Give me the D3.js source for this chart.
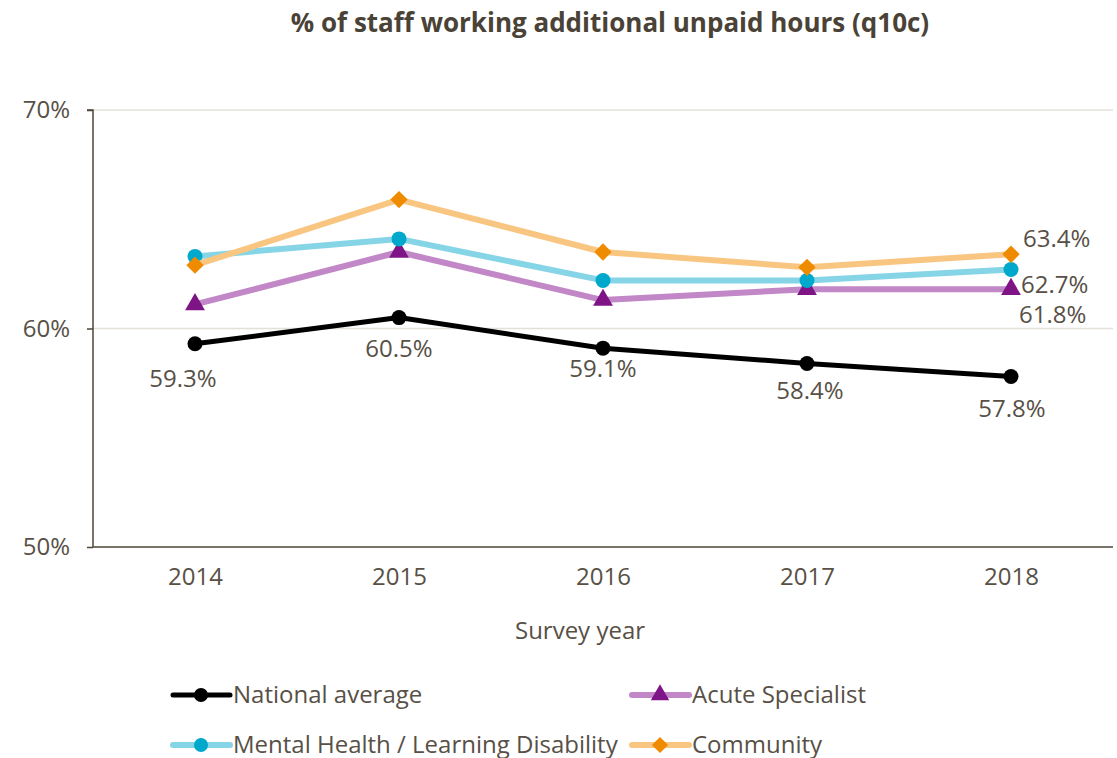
<!DOCTYPE html>
<html>
<head>
  <meta charset="utf-8">
  <script src="https://cdn.jsdelivr.net/npm/d3@7"></script>
  <style>
body { margin: 0; background: #fff; }
text { font-family: "Open Sans", sans-serif; fill: #585046; }
.title { font-weight: bold; font-size: 26px; fill: #4a4236; }
.tick text { font-size: 24px; }
.lbl { font-size: 24px; }
  </style>
</head>
<body>
<svg width="1117" height="758"></svg>
<script>
const years = ["2014", "2015", "2016", "2017", "2018"];
const national = [59.3, 60.5, 59.1, 58.4, 57.8];
const acute = [61.1, 63.5, 61.3, 61.8, 61.8];
const mental = [63.3, 64.1, 62.2, 62.2, 62.7];
const community = [62.9, 65.9, 63.5, 62.8, 63.4];
const yTicks = [50, 60, 70];

const series = [
  {name: "National average", values: national, line: "#000", mark: "#000", shape: "circle", w: 5},
  {name: "Acute Specialist", values: acute, line: "#c187c7", mark: "#7e1485", shape: "triangle", w: 6},
  {name: "Mental Health / Learning Disability", values: mental, line: "#86d5e7", mark: "#00a8cc", shape: "circle", w: 6},
  {name: "Community", values: community, line: "#f9c682", mark: "#ef8b00", shape: "diamond", w: 6}
];

const svg = d3.select("svg");
const m = {left: 93, right: 1113, top: 110, bottom: 547};

const x = d3.scalePoint().domain(years).range([m.left, m.right]).padding(0.5);
const y = d3.scaleLinear().domain([50, 70]).range([m.bottom, m.top]);

svg.append("text").attr("class", "title")
   .attr("x", 610).attr("y", 32).attr("text-anchor", "middle")
   .text("% of staff working additional unpaid hours (q10c)");

// gridlines
svg.append("g").selectAll("line")
   .data(yTicks.filter(d => d > 50))
   .enter().append("line")
   .attr("x1", m.left).attr("x2", m.right)
   .attr("y1", d => y(d)).attr("y2", d => y(d))
   .attr("stroke", "#e2e0d9").attr("stroke-width", 1.5);

const yAxis = svg.append("g").attr("transform", `translate(${m.left},0)`)
   .call(d3.axisLeft(y).tickValues(yTicks).tickFormat(d => d + "%").tickSize(6).tickPadding(17));
yAxis.select(".domain").attr("stroke", "#4d4639").attr("stroke-width", 1.5).attr("d", `M-6,${m.top}H0V${m.bottom}`);
yAxis.selectAll(".tick line").attr("stroke", "#4d4639").attr("stroke-width", 1.5);

const xAxis = svg.append("g").attr("transform", `translate(0,${m.bottom})`)
   .call(d3.axisBottom(x).tickSize(0).tickPadding(21));
xAxis.select(".domain").attr("stroke", "#4d4639").attr("stroke-width", 1.5).attr("d", `M${m.left},0H${m.right}`);

svg.append("text").attr("class", "lbl")
   .attr("x", 580).attr("y", 639).attr("text-anchor", "middle")
   .text("Survey year");

const line = d3.line().x((d, i) => x(years[i])).y(d => y(d));

function marker(g, s, cx, cy, size) {
  if (s.shape === "circle") {
    g.append("circle").attr("cx", cx).attr("cy", cy).attr("r", size * 0.5).attr("fill", s.mark);
  } else if (s.shape === "triangle") {
    g.append("path").attr("transform", `translate(${cx},${cy})`)
     .attr("d", d3.symbol(d3.symbolTriangle2, size * size * 1.25)()).attr("fill", s.mark);
  } else {
    g.append("path").attr("transform", `translate(${cx},${cy}) rotate(45)`)
     .attr("d", d3.symbol(d3.symbolSquare2, size * size * 0.85)()).attr("fill", s.mark);
  }
}

// draw back to front so national sits on top
const order = [series[1], series[2], series[3], series[0]];
order.forEach(s => {
  const g = svg.append("g");
  g.append("path").datum(s.values)
   .attr("d", line).attr("fill", "none")
   .attr("stroke", s.line).attr("stroke-width", s.w).attr("stroke-linejoin", "round");
  s.values.forEach((v, i) => marker(g, s, x(years[i]), y(v), 15));
});

// data labels under the national line
const natDx = [-12, 0, 0, 3, 1];
const natDy = [43, 39, 29, 36, 40];
svg.append("g").selectAll("text")
   .data(national)
   .enter().append("text").attr("class", "lbl")
   .attr("x", (d, i) => x(years[i]) + natDx[i])
   .attr("y", (d, i) => y(d) + natDy[i])
   .attr("text-anchor", "middle")
   .text(d => d.toFixed(1) + "%");

const last = years.length - 1;
[[community, 12, -7], [mental, 10, 23], [acute, 8, 34]].forEach(([vals, dx, dy]) => {
  svg.append("text").attr("class", "lbl")
     .attr("x", x(years[last]) + dx)
     .attr("y", y(vals[last]) + dy)
     .text(vals[last].toFixed(1) + "%");
});

// legend
const legPos = [[173, 695], [632, 695], [173, 745], [632, 745]];
series.forEach((s, i) => {
  const [lx, ly] = legPos[i];
  const g = svg.append("g");
  g.append("line").attr("x1", lx).attr("x2", lx + 57).attr("y1", ly).attr("y2", ly)
   .attr("stroke", s.line).attr("stroke-width", s.w).attr("stroke-linecap", "round");
  marker(g, s, lx + 28, ly, 14);
  g.append("text").attr("class", "lbl").attr("x", lx + 60).attr("y", ly + 8).text(s.name);
});
</script>
</body>
</html>
